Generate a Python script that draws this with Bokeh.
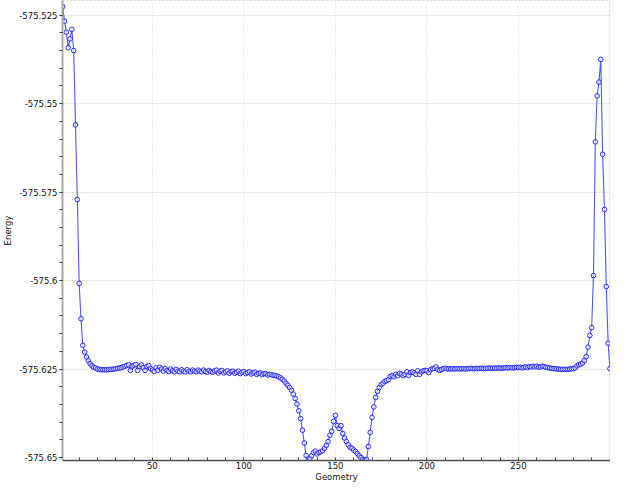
from bokeh.plotting import figure
from bokeh.models import Range1d, FixedTicker
from bokeh.embed import file_html
from bokeh.resources import INLINE

energy = [
    -575.5226, -575.5267, -575.5298, -575.5342, -575.5317, -575.5290, -575.5350, -575.5560, -575.5771, -575.6008,
    -575.6108, -575.6183, -575.6202, -575.6216, -575.6227, -575.6235, -575.6241, -575.6245, -575.6247, -575.6250,
    -575.6251, -575.6252, -575.6252, -575.6252, -575.6252, -575.6252, -575.6251, -575.6251, -575.6250, -575.6249,
    -575.6248, -575.6247, -575.6246, -575.6244, -575.6242, -575.6240, -575.6238, -575.6254, -575.6242, -575.6239,
    -575.6237, -575.6254, -575.6243, -575.6238, -575.6246, -575.6254, -575.6243, -575.6240, -575.6249, -575.6253,
    -575.6257, -575.6247, -575.6253, -575.6245, -575.6250, -575.6256, -575.6249, -575.6254, -575.6257, -575.6250,
    -575.6255, -575.6258, -575.6251, -575.6256, -575.6258, -575.6252, -575.6256, -575.6258, -575.6252, -575.6256,
    -575.6258, -575.6253, -575.6256, -575.6258, -575.6253, -575.6256, -575.6258, -575.6253, -575.6257, -575.6259,
    -575.6254, -575.6257, -575.6259, -575.6255, -575.6253, -575.6261, -575.6256, -575.6254, -575.6261, -575.6258,
    -575.6255, -575.6262, -575.6257, -575.6256, -575.6262, -575.6259, -575.6256, -575.6263, -575.6259, -575.6257,
    -575.6263, -575.6260, -575.6258, -575.6264, -575.6261, -575.6259, -575.6265, -575.6262, -575.6261, -575.6266,
    -575.6263, -575.6263, -575.6267, -575.6265, -575.6266, -575.6268, -575.6268, -575.6270, -575.6272, -575.6275,
    -575.6279, -575.6284, -575.6290, -575.6296, -575.6302, -575.6310, -575.6321, -575.6333, -575.6349, -575.6368,
    -575.6390, -575.6423, -575.6459, -575.6494, -575.6508, -575.6503, -575.6495, -575.6486, -575.6482, -575.6490,
    -575.6486, -575.6484, -575.6481, -575.6474, -575.6466, -575.6455, -575.6437, -575.6426, -575.6398, -575.6381,
    -575.6410, -575.6418, -575.6410, -575.6432, -575.6445, -575.6455, -575.6464, -575.6471, -575.6474, -575.6479,
    -575.6483, -575.6489, -575.6495, -575.6500, -575.6505, -575.6508, -575.6506, -575.6469, -575.6429, -575.6387,
    -575.6357, -575.6330, -575.6313, -575.6302, -575.6294, -575.6290, -575.6285, -575.6283, -575.6280, -575.6271,
    -575.6268, -575.6272, -575.6265, -575.6269, -575.6262, -575.6264, -575.6269, -575.6265, -575.6258, -575.6268,
    -575.6260, -575.6258, -575.6261, -575.6265, -575.6255, -575.6265, -575.6258, -575.6255, -575.6254, -575.6255,
    -575.6260, -575.6252, -575.6249, -575.6248, -575.6244, -575.6251, -575.6254, -575.6251, -575.6249, -575.6248,
    -575.6250, -575.6249, -575.6250, -575.6249, -575.6250, -575.6249, -575.6249, -575.6250, -575.6249, -575.6249,
    -575.6250, -575.6249, -575.6249, -575.6248, -575.6249, -575.6249, -575.6248, -575.6249, -575.6248, -575.6248,
    -575.6249, -575.6248, -575.6248, -575.6247, -575.6248, -575.6248, -575.6247, -575.6248, -575.6247, -575.6247,
    -575.6248, -575.6247, -575.6246, -575.6247, -575.6246, -575.6246, -575.6247, -575.6246, -575.6245, -575.6246,
    -575.6245, -575.6247, -575.6245, -575.6244, -575.6246, -575.6243, -575.6244, -575.6242, -575.6244, -575.6242,
    -575.6245, -575.6244, -575.6242, -575.6243, -575.6245, -575.6246, -575.6247, -575.6248, -575.6249, -575.6249,
    -575.6250, -575.6250, -575.6251, -575.6251, -575.6251, -575.6251, -575.6251, -575.6250, -575.6249, -575.6249,
    -575.6247, -575.6241, -575.6238, -575.6236, -575.6233, -575.6226, -575.6215, -575.6188, -575.6155, -575.6133,
    -575.5986, -575.5608, -575.5478, -575.5439, -575.5375, -575.5643, -575.5799, -575.6017, -575.6177, -575.6249,
]
geometry = list(range(1, len(energy) + 1))

x_ticks = [50, 100, 150, 200, 250]
x_minor_ticks = [10, 20, 30, 40, 60, 70, 80, 90, 110, 120, 130, 140, 160, 170, 180, 190,
                 210, 220, 230, 240, 260, 270, 280, 290]
y_ticks = [-575.65, -575.625, -575.6, -575.575, -575.55, -575.525]
y_tick_labels = ["-575.65", "-575.625", "-575.6", "-575.575", "-575.55", "-575.525"]
y_minor_ticks = [round(-575.65 + 0.005 * i, 3) for i in range(0, 26)]

FONT = "DejaVu Sans"

p = figure(width=610, height=484, output_backend="svg", toolbar_location=None,
           x_range=Range1d(0.9, 300.3), y_range=Range1d(-575.65085, -575.52085),
           min_border_top=0, min_border_right=0, min_border_left=0, min_border_bottom=0)

p.background_fill_color = "white"
p.border_fill_color = "white"
p.outline_line_color = "#d4d4d4"
p.outline_line_dash = "2 2"

# grids
p.xgrid.ticker = FixedTicker(ticks=x_ticks)
p.ygrid.ticker = FixedTicker(ticks=y_ticks)
p.xgrid.grid_line_color = "#dadada"
p.xgrid.grid_line_dash = "1 2"
p.ygrid.grid_line_color = "#e4e4e4"
p.ygrid.grid_line_dash = "3 1"

# x axis
xa = p.xaxis[0]
xa.ticker = FixedTicker(ticks=x_ticks, minor_ticks=x_minor_ticks)
xa.axis_label = "Geometry"
xa.axis_line_color = "#505050"
xa.axis_line_width = 1.5
xa.major_tick_in = 3
xa.major_tick_out = 0
xa.minor_tick_in = 3
xa.minor_tick_out = 0
xa.major_tick_line_color = "#505050"
xa.minor_tick_line_color = "#505050"
xa.major_label_standoff = 1
xa.axis_label_standoff = 0

# y axis
ya = p.yaxis[0]
ya.ticker = FixedTicker(ticks=y_ticks, minor_ticks=y_minor_ticks)
ya.major_label_overrides = dict(zip(y_ticks, y_tick_labels))
ya.axis_label = "Energy"
ya.axis_line_color = "#a8a8a8"
ya.axis_line_width = 2
ya.major_tick_in = 0
ya.major_tick_out = 3
ya.minor_tick_in = 0
ya.minor_tick_out = 3
ya.major_tick_line_color = "#404040"
ya.minor_tick_line_color = "#404040"
ya.major_label_standoff = 2
ya.axis_label_standoff = 3

for ax in (xa, ya):
    ax.major_label_text_font = FONT
    ax.major_label_text_font_size = "8.5px"
    ax.major_label_text_color = "#111111"
    ax.axis_label_text_font = FONT
    ax.axis_label_text_font_size = "8.5px"
    ax.axis_label_text_font_style = "normal"
    ax.axis_label_text_color = "#111111"

p.line(geometry, energy, line_color="#4040ff", line_width=1.1, line_alpha=0.9)
p.scatter(geometry, energy, marker="circle", size=4.6, line_color="#2a2aff", line_width=1,
          fill_color="white", fill_alpha=0.6)

open("out.html", "w").write(file_html(p, INLINE))
